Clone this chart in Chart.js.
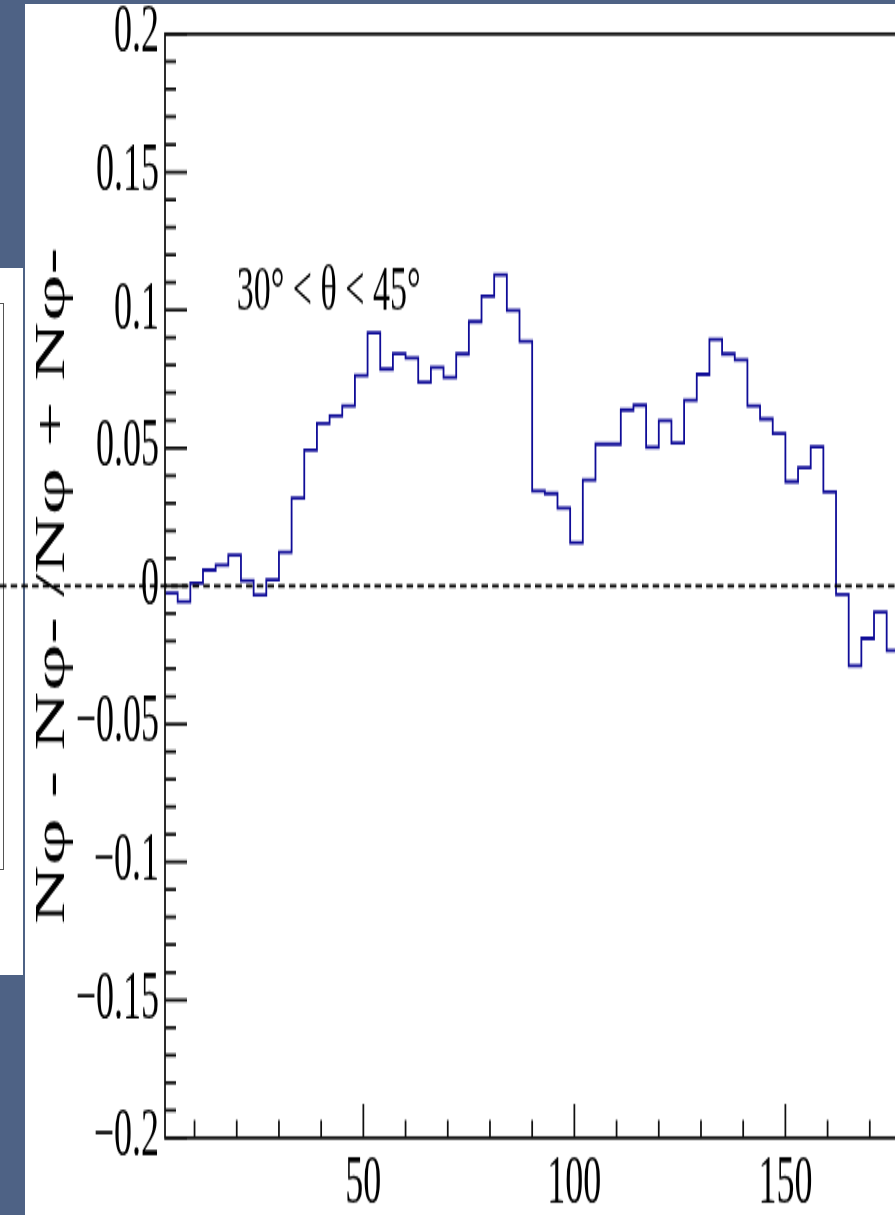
<!DOCTYPE html>
<html>
<head>
<meta charset="utf-8">
<script src="https://cdn.jsdelivr.net/npm/chart.js@4/dist/chart.umd.min.js"></script>
<style>
  html, body { margin: 0; padding: 0; width: 895px; height: 1215px; overflow: hidden; background: #4e6285; }
  #sheet { position: absolute; left: 25px; top: 4px; width: 900px; height: 1240px; background: #fff; }
  #sidePanel { position: absolute; left: 0; top: 268px; width: 23px; height: 707px; background: #fff; }
  #sideFrame { position: absolute; left: -10px; top: 35px; width: 12px; height: 565px; border: 1px solid #555; }
  /* the plot is drawn at its natural size and stretched vertically */
  #stage { position: absolute; left: 0; top: 0; width: 930px; height: 660px; transform: scaleY(1.9); transform-origin: 0 0; }
</style>
</head>
<body>
<div id="sidePanel"><div id="sideFrame"></div></div>
<div id="sheet"></div>
<div id="stage"><canvas id="plot"></canvas></div>
<script>
// Histogram: asymmetry vs phi, 3-degree bins starting at 3
const binLowEdge = 3;
const binWidth = 3;
const asymmetry = [
  -0.0025, -0.0057, 0.0010, 0.0058, 0.0076, 0.0112, 0.0019, -0.0033, 0.0023, 0.0122,
   0.0318,  0.0493, 0.0589, 0.0617, 0.0652, 0.0762, 0.0917,  0.0786, 0.0842, 0.0826,
   0.0738,  0.0792, 0.0756, 0.0841, 0.0958, 0.1050, 0.1128,  0.0998, 0.0887, 0.0344,
   0.0335,  0.0283, 0.0157, 0.0384, 0.0514, 0.0514, 0.0638,  0.0655, 0.0503, 0.0599,
   0.0518,  0.0673, 0.0767, 0.0893, 0.0841, 0.0819, 0.0653,  0.0605, 0.0553, 0.0378,
   0.0429,  0.0505, 0.0341, -0.0031, -0.0289, -0.0190, -0.0095, -0.0234
];

const xRange = [3, 180];
const yRange = [-0.2, 0.2];
const xMajorTicks = [50, 100, 150];
const xMinorTicks = [10, 20, 30, 40, 60, 70, 80, 90, 110, 120, 130, 140, 160, 170];
const yMajorTicks = [-0.2, -0.15, -0.1, -0.05, 0, 0.05, 0.1, 0.15, 0.2];
const yTickLabels = ['\u22120.2', '\u22120.15', '\u22120.1', '\u22120.05', '0', '0.05', '0.1', '0.15', '0.2'];
const yMinorTicks = [-0.19, -0.18, -0.17, -0.16, -0.14, -0.13, -0.12, -0.11, -0.09, -0.08, -0.07, -0.06,
                     -0.04, -0.03, -0.02, -0.01, 0.01, 0.02, 0.03, 0.04, 0.06, 0.07, 0.08, 0.09,
                     0.11, 0.12, 0.13, 0.14, 0.16, 0.17, 0.18, 0.19];
const yTitle = 'N\u03c6 - N\u03c6- /N\u03c6 + N\u03c6-';
const rangeLabel = '30\u00b0 < \u03b8 < 45\u00b0';
const rangeLabelAt = { x: 20, y: 0.1 };
const zeroLevel = 0;

const STRETCH = 1.9;
const SERIF = '"Liberation Serif", "Times New Roman", serif';

// step points at bin edges; last point closes the final bin
const histPoints = asymmetry.map((v, i) => ({ x: binLowEdge + i * binWidth, y: v }));
histPoints.push({ x: binLowEdge + asymmetry.length * binWidth, y: asymmetry[asymmetry.length - 1] });

// frame, inward ticks, dashed zero line and the range label
const rootFrame = {
  id: 'rootFrame',
  afterDatasetsDraw(chart) {
    const { ctx, chartArea: a, scales: { x, y } } = chart;
    ctx.save();
    ctx.strokeStyle = '#111';
    ctx.lineWidth = 1.75;
    ctx.beginPath();
    yMajorTicks.forEach(v => { const p = y.getPixelForValue(v); ctx.moveTo(a.left, p); ctx.lineTo(a.left + 22, p); });
    yMinorTicks.forEach(v => { const p = y.getPixelForValue(v); ctx.moveTo(a.left, p); ctx.lineTo(a.left + 11, p); });
    xMajorTicks.forEach(v => { const p = x.getPixelForValue(v); ctx.moveTo(p, a.bottom); ctx.lineTo(p, a.bottom - 34 / STRETCH); });
    xMinorTicks.forEach(v => { const p = x.getPixelForValue(v); ctx.moveTo(p, a.bottom); ctx.lineTo(p, a.bottom - 18 / STRETCH); });
    ctx.stroke();
    ctx.strokeRect(a.left, a.top, a.right - a.left, a.bottom - a.top);

    ctx.setLineDash([6.5, 4.2]);
    ctx.strokeStyle = '#000';
    ctx.beginPath();
    const p0 = y.getPixelForValue(zeroLevel);
    ctx.moveTo(0, p0);
    ctx.lineTo(chart.width, p0);
    ctx.stroke();
    ctx.setLineDash([]);

    ctx.font = '34px ' + SERIF;
    ctx.fillStyle = '#000';
    ctx.textAlign = 'left';
    ctx.textBaseline = 'alphabetic';
    ctx.fillText(rangeLabel, x.getPixelForValue(rangeLabelAt.x), y.getPixelForValue(rangeLabelAt.y));
    ctx.restore();
  }
};

new Chart(document.getElementById('plot'), {
  type: 'line',
  data: {
    datasets: [{
      data: histPoints,
      stepped: 'before',
      borderColor: '#100d98',
      borderWidth: 1.8,
      pointRadius: 0,
      fill: false,
      tension: 0
    }]
  },
  options: {
    responsive: true,
    maintainAspectRatio: false,
    animation: false,
    devicePixelRatio: 1,
    layout: { padding: { top: 17.9, right: 18, bottom: 0, left: 0 } },
    plugins: { legend: { display: false }, tooltip: { enabled: false } },
    scales: {
      x: {
        type: 'linear',
        min: xRange[0],
        max: xRange[1],
        grid: { display: false, drawTicks: false },
        border: { display: false },
        afterBuildTicks: s => { s.ticks = xMajorTicks.map(v => ({ value: v })); },
        afterFit: s => { s.height = 61.1; s.paddingLeft = 0; s.paddingRight = 0; },
        ticks: {
          autoSkip: false, maxRotation: 0, padding: 3, color: '#000',
          font: { family: SERIF, size: 36 },
          callback: v => String(v)
        }
      },
      y: {
        type: 'linear',
        min: yRange[0],
        max: yRange[1],
        grid: { display: false, drawTicks: false },
        border: { display: false },
        afterBuildTicks: s => { s.ticks = yMajorTicks.map(v => ({ value: v })); },
        afterFit: s => { s.width = 165; s.paddingTop = 0; s.paddingBottom = 0; },
        ticks: {
          autoSkip: false, padding: 6, color: '#000',
          font: { family: SERIF, size: 36 },
          callback: (v, i) => yTickLabels[i]
        },
        title: {
          display: true, text: yTitle, color: '#000',
          font: { family: SERIF, size: 43 },
          padding: { top: 27, bottom: 0 }
        }
      }
    }
  },
  plugins: [rootFrame]
});
</script>
</body>
</html>
